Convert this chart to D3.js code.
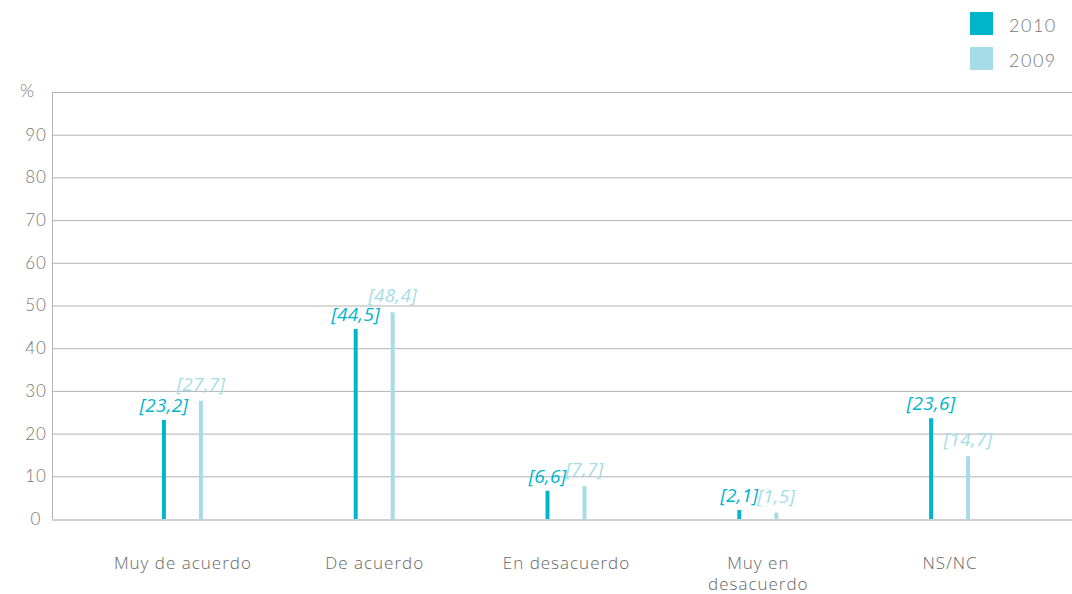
<!DOCTYPE html>
<html>
<head>
<meta charset="utf-8">
<script src="https://cdn.jsdelivr.net/npm/d3@7"></script>
<style>
  body { margin: 0; background: #fff; }
  svg { display: block; }
</style>
</head>
<body>
<script>
// data
var categories = ['Muy de acuerdo', 'De acuerdo', 'En desacuerdo', 'Muy en desacuerdo', 'NS/NC'];
var series = ['2010', '2009'];
var values2010 = [23.2, 44.5, 6.6, 2.1, 23.6];
var values2009 = [27.7, 48.4, 7.7, 1.5, 14.7];
var labels2010 = ['[23,2]', '[44,5]', '[6,6]', '[2,1]', '[23,6]'];
var labels2009 = ['[27,7]', '[48,4]', '[7,7]', '[1,5]', '[14,7]'];
var yTicks = [0, 10, 20, 30, 40, 50, 60, 70, 80, 90];

var colors = {'2010': '#00b4cb', '2009': '#a6dce7'};

var W = 1072, H = 594;
var svg = d3.select('body').append('svg')
    .attr('width', W)
    .attr('height', H);

var x = d3.scaleBand().domain(categories).range([87, 1046]);
var xs = d3.scaleOrdinal().domain(series).range([-19, 18]);
var y = d3.scaleLinear().domain([0, 100]).range([519, 92]);

// gridlines
svg.append('g').selectAll('line')
    .data(yTicks.slice(1).concat([100]))
    .enter().append('line')
    .attr('x1', 52).attr('x2', W)
    .attr('y1', function(d) { return y(d) + 0.5; })
    .attr('y2', function(d) { return y(d) + 0.5; })
    .attr('stroke', '#b3b3b3').attr('stroke-width', 1);

// left axis line
svg.append('line')
    .attr('x1', 52.5).attr('x2', 52.5)
    .attr('y1', y(100)).attr('y2', y(0))
    .attr('stroke', '#b3b3b3');

// baseline
svg.append('line')
    .attr('x1', 52).attr('x2', W)
    .attr('y1', y(0) + 1).attr('y2', y(0) + 1)
    .attr('stroke', '#cfcfcf').attr('stroke-width', 2);

// y tick labels
var yAxis = d3.axisLeft(y).tickValues(yTicks).tickSize(0).tickPadding(0);
var ga = svg.append('g').attr('transform', 'translate(36,0)').call(yAxis);
ga.select('.domain').remove();
ga.selectAll('text')
    .attr('font-family', 'Lato, sans-serif')
    .attr('font-weight', 300)
    .attr('font-size', 17)
    .attr('letter-spacing', 1)
    .attr('fill', '#777')
    .attr('text-anchor', 'middle')
    .attr('dy', '0.32em');
svg.append('text')
    .attr('x', 27).attr('y', 97)
    .attr('text-anchor', 'middle')
    .attr('font-family', 'Lato, sans-serif').attr('font-weight', 300)
    .attr('font-size', 18).attr('fill', '#777')
    .text('%');

// bars
var rows = categories.map(function(c, i) {
    return {cat: c, vals: [
        {s: '2010', v: values2010[i], lab: labels2010[i]},
        {s: '2009', v: values2009[i], lab: labels2009[i]}
    ]};
});

var groups = svg.selectAll('.grp').data(rows).enter().append('g')
    .attr('class', 'grp')
    .attr('transform', function(d) { return 'translate(' + (x(d.cat) + x.bandwidth() / 2) + ',0)'; });

groups.selectAll('rect').data(function(d) { return d.vals; })
    .enter().append('rect')
    .attr('x', function(d) { return xs(d.s) - 2; })
    .attr('width', 4)
    .attr('y', function(d) { return y(d.v); })
    .attr('height', function(d) { return y(0) - y(d.v); })
    .attr('fill', function(d) { return colors[d.s]; });

groups.selectAll('text.val').data(function(d) { return d.vals; })
    .enter().append('text')
    .attr('class', 'val')
    .attr('x', function(d) { return xs(d.s); })
    .attr('y', function(d) { return y(d.v) - (d.s === '2009' ? 10 : 8); })
    .attr('text-anchor', 'middle')
    .attr('font-family', '"Open Sans", sans-serif')
    .attr('font-style', 'italic')
    .attr('font-size', 19)
    .attr('letter-spacing', 0.3)
    .attr('fill', function(d) { return colors[d.s]; })
    .text(function(d) { return d.lab; });

// category labels
var catText = svg.selectAll('.cat').data(categories).enter().append('text')
    .attr('class', 'cat')
    .attr('x', function(d) { return x(d) + x.bandwidth() / 2; })
    .attr('y', 569)
    .attr('text-anchor', 'middle')
    .attr('font-family', '"Open Sans", sans-serif')
    .attr('font-weight', 300)
    .attr('font-size', 17)
    .attr('letter-spacing', 1)
    .attr('fill', '#666');
catText.each(function(d) {
    var t = d3.select(this);
    var parts = d === 'Muy en desacuerdo' ? ['Muy en', 'desacuerdo'] : [d];
    parts.forEach(function(p, i) {
        t.append('tspan')
            .attr('x', x(d) + x.bandwidth() / 2)
            .attr('dy', i === 0 ? 0 : 21)
            .text(p);
    });
});

// legend
var leg = svg.selectAll('.leg').data(series).enter().append('g')
    .attr('class', 'leg')
    .attr('transform', function(d, i) { return 'translate(970,' + (12 + i * 35) + ')'; });
leg.append('rect').attr('width', 23).attr('height', 23)
    .attr('fill', function(d) { return colors[d]; });
leg.append('text')
    .attr('x', 39).attr('y', 20)
    .attr('font-family', 'Lato, sans-serif').attr('font-weight', 300)
    .attr('font-size', 18).attr('fill', '#777')
    .attr('letter-spacing', 1.5)
    .text(function(d) { return d; });
</script>
</body>
</html>
